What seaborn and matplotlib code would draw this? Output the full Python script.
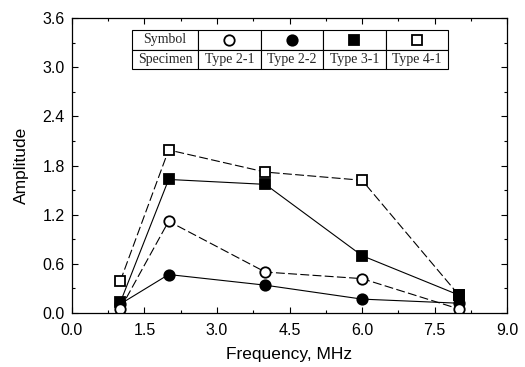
import matplotlib
matplotlib.use("Agg")
import matplotlib.pyplot as plt
from matplotlib.ticker import MultipleLocator
import seaborn as sns
import pandas as pd

# Amplitude versus frequency for four specimen types
frequency = [1, 2, 4, 6, 8]
specimens = ["Type 2-1", "Type 2-2", "Type 3-1", "Type 4-1"]
amp_type21 = [0.05, 1.12, 0.50, 0.42, 0.05]
amp_type22 = [0.11, 0.47, 0.34, 0.17, 0.12]
amp_type31 = [0.13, 1.63, 1.57, 0.70, 0.22]
amp_type41 = [0.39, 1.99, 1.72, 1.62, 0.22]

x_ticks = [0.0, 1.5, 3.0, 4.5, 6.0, 7.5, 9.0]
y_ticks = [0.0, 0.6, 1.2, 1.8, 2.4, 3.0, 3.6]

sns.set_theme(style="ticks")
plt.rcParams["font.family"] = ["Liberation Sans", "DejaVu Sans"]

fig = plt.figure(figsize=(5.25, 3.67), dpi=100)
ax = fig.add_axes([0.137, 0.147, 0.829, 0.804])

dash = (0, (8, 3))
styles = {
    "Type 4-1": dict(vals=amp_type41, marker="s", mfc="white", ls=dash, ms=7),
    "Type 3-1": dict(vals=amp_type31, marker="s", mfc="black", ls="-", ms=7),
    "Type 2-2": dict(vals=amp_type22, marker="o", mfc="black", ls="-", ms=7.5),
    "Type 2-1": dict(vals=amp_type21, marker="o", mfc="white", ls=dash, ms=7.5),
}

for name, st in styles.items():
    df = pd.DataFrame({"Frequency": frequency, "Amplitude": st["vals"]})
    sns.lineplot(data=df, x="Frequency", y="Amplitude", ax=ax, color="black",
                 linewidth=0.8, linestyle=st["ls"], marker=st["marker"],
                 markersize=st["ms"], markerfacecolor=st["mfc"],
                 markeredgecolor="black", markeredgewidth=1.3, legend=False)

ax.set_xlim(0, 9)
ax.set_ylim(0, 3.6)
ax.set_xticks(x_ticks)
ax.set_yticks(y_ticks)
ax.set_xticklabels([f"{v:.1f}" for v in x_ticks])
ax.set_yticklabels([f"{v:.1f}" for v in y_ticks])
ax.xaxis.set_minor_locator(MultipleLocator(0.75))
ax.yaxis.set_minor_locator(MultipleLocator(0.3))
ax.tick_params(which="both", direction="in", top=True, right=True,
               color="black", width=0.8, labelsize=11.5, labelcolor="black")
ax.tick_params(axis="x", which="major", pad=7)
ax.tick_params(axis="y", which="major", pad=5)
ax.tick_params(which="major", length=4)
ax.tick_params(which="minor", length=2)
for sp in ax.spines.values():
    sp.set_color("black")
    sp.set_linewidth(0.9)

ax.set_xlabel("Frequency, MHz", fontsize=12.5, color="black", labelpad=7)
ax.set_ylabel("Amplitude", fontsize=12.5, color="black", labelpad=10)

# Symbol / specimen key table
cell_text = [["Symbol", "", "", "", ""], ["Specimen"] + specimens]
widths = [66, 63, 62, 63, 62]
total = sum(widths)
x0, x1 = 0.138, 0.864
y0, y1 = 0.827, 0.959
tbl = ax.table(cellText=cell_text, cellLoc="center",
               colWidths=[w / total for w in widths],
               bbox=[x0, y0, x1 - x0, y1 - y0])
tbl.auto_set_font_size(False)
for (r, c), cell in tbl.get_celld().items():
    cell.set_edgecolor("black")
    cell.set_linewidth(0.8)
    cell.set_facecolor("white")
    cell.PAD = 0.02
    cell.get_text().set_fontsize(10)
    cell.get_text().set_fontfamily("Liberation Serif")

# symbols inside the key table
key = [("o", "white"), ("o", "black"), ("s", "black"), ("s", "white")]
cum = widths[0]
row_y = y0 + 0.75 * (y1 - y0)
for (mk, fc), w in zip(key, widths[1:]):
    cx = x0 + (cum + w / 2) / total * (x1 - x0)
    ax.plot([cx], [row_y], marker=mk, ms=7.5 if mk == "o" else 7,
            mfc=fc, mec="black", mew=1.3, transform=ax.transAxes,
            zorder=10, clip_on=False, linestyle="none")
    cum += w

fig.savefig("out.png", dpi=100)
